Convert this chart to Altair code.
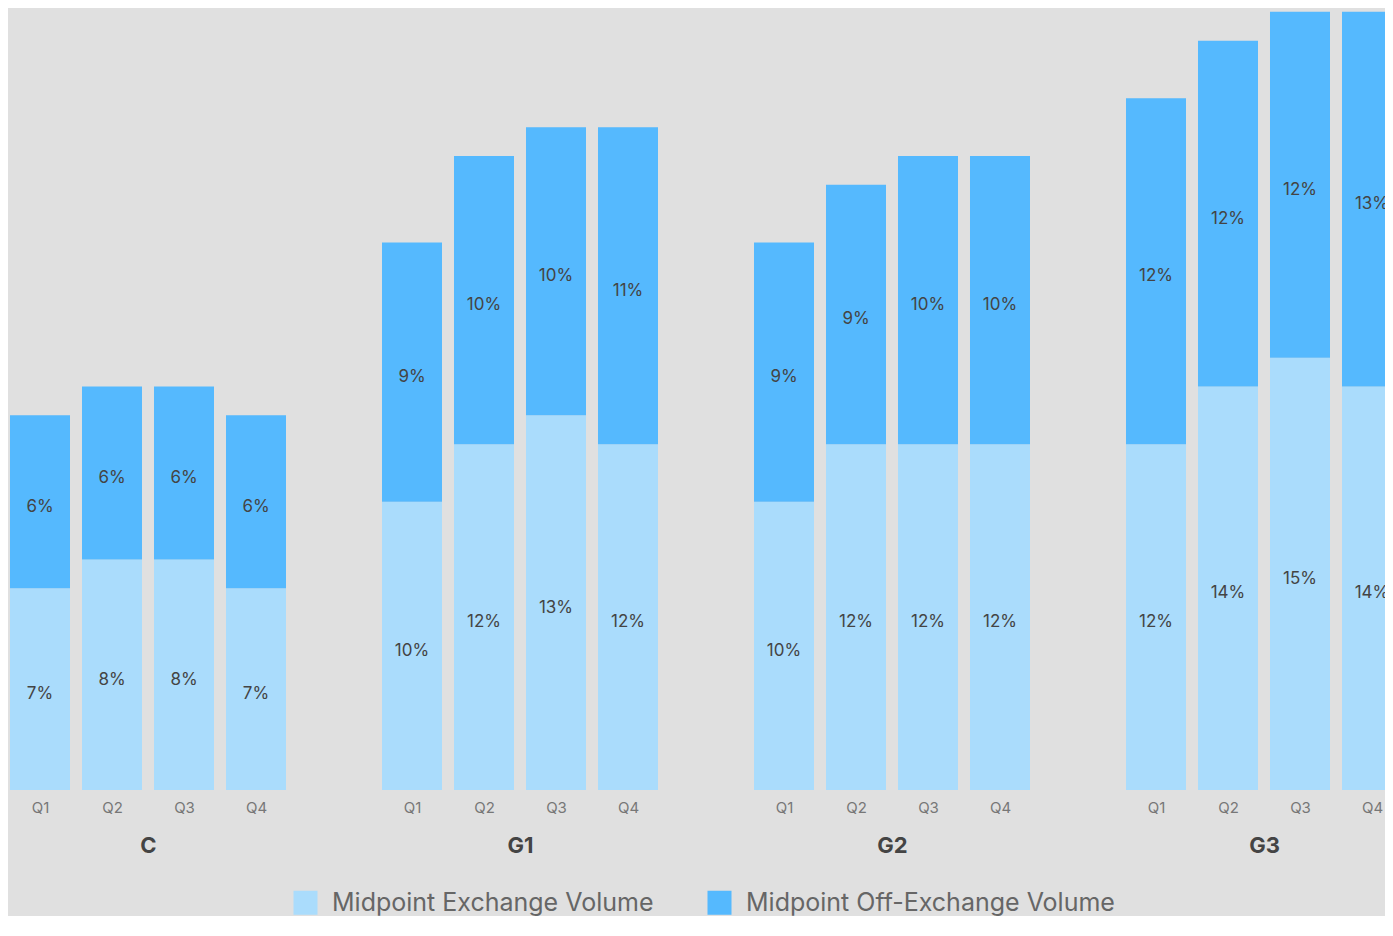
import json
import altair as alt
import pandas as pd

groups = ["C", "G1", "G2", "G3"]
quarters = ["Q1", "Q2", "Q3", "Q4"]
series = ["Midpoint Exchange Volume", "Midpoint Off-Exchange Volume"]

exchange_C = [7, 8, 8, 7]
exchange_G1 = [10, 12, 13, 12]
exchange_G2 = [10, 12, 12, 12]
exchange_G3 = [12, 14, 15, 14]

off_exchange_C = [6, 6, 6, 6]
off_exchange_G1 = [9, 10, 10, 11]
off_exchange_G2 = [9, 9, 10, 10]
off_exchange_G3 = [12, 12, 12, 13]

exchange = [exchange_C, exchange_G1, exchange_G2, exchange_G3]
off_exchange = [off_exchange_C, off_exchange_G1, off_exchange_G2, off_exchange_G3]

rows = []
for gi, g in enumerate(groups):
    for qi, q in enumerate(quarters):
        rows.append({"group": g, "quarter": q, "qi": qi, "series": series[0], "order": 0, "value": exchange[gi][qi]})
        rows.append({"group": g, "quarter": q, "qi": qi, "series": series[1], "order": 1, "value": off_exchange[gi][qi]})
df = pd.DataFrame(rows)

FONT = "Inter"
PANEL_W = 280        # full panel width in px
PANEL_H = 782
STEP = 72            # px per quarter slot
BAR_HALF = 30 / 72   # half bar width, in slot units
X_START = -32 / 72   # left edge of panel, in slot units
SPACING = 92
TOTAL_W = 1377

y_scale = alt.Scale(domain=[0, 27.134], nice=False, zero=True)
color_scale = alt.Scale(domain=series, range=["#aadcfc", "#55b9fe"])
label_expr = json.dumps(quarters) + "[datum.value]"


def panel(g, width):
    x_scale = alt.Scale(domain=[X_START, X_START + width / STEP], nice=False, zero=False, clamp=True)

    base = alt.Chart().transform_filter(
        alt.datum.group == g
    ).transform_stack(
        stack="value",
        as_=["y0", "y1"],
        groupby=["quarter"],
        sort=[alt.SortField("order", order="ascending")],
    ).transform_calculate(
        mid="(datum.y0 + datum.y1) / 2",
        label="datum.value + '%'",
        xs="datum.qi - %f" % BAR_HALF,
        xe="datum.qi + %f" % BAR_HALF,
    )

    x_axis = alt.Axis(
        title=g, titleFontSize=22, titleFontWeight="bold", titleColor="#444444",
        titleFont=FONT, titlePadding=20, titleX=PANEL_W / 2,
        values=list(range(len(quarters))), labelExpr=label_expr,
        grid=False, ticks=False, domain=False, labelAngle=0,
        labelFlush=False, labelOverlap=False,
        labelFontSize=15, labelColor="#777777", labelPadding=10, labelFont=FONT,
    )

    bars = base.mark_bar().encode(
        x=alt.X("xs:Q", scale=x_scale, axis=x_axis),
        x2="xe:Q",
        y=alt.Y("y0:Q", scale=y_scale, axis=None),
        y2="y1:Q",
        color=alt.Color(
            "series:N",
            scale=color_scale,
            legend=alt.Legend(
                title=None, orient="none", direction="horizontal",
                legendX=285, legendY=882,
                symbolType="square", symbolSize=576, symbolStrokeWidth=0,
                labelFontSize=25, labelColor="#666666", labelFont=FONT,
                labelOffset=14, columnPadding=53, labelLimit=0,
            ),
        ),
    )

    text = base.mark_text(fontSize=17, color="#444444", font=FONT, dy=5, clip=True).encode(
        x=alt.X("qi:Q", scale=x_scale, axis=x_axis),
        y=alt.Y("mid:Q", scale=y_scale, axis=None),
        text="label:N",
    )
    return alt.layer(bars, text).properties(width=width, height=PANEL_H)


widths = [PANEL_W, PANEL_W, PANEL_W, TOTAL_W - 3 * (PANEL_W + SPACING)]
panels = [panel(g, w) for g, w in zip(groups, widths)]

chart = alt.hconcat(*panels, data=df, spacing=SPACING).resolve_scale(
    x="independent"
).configure(
    background="#e0e0e0",
    padding=0,
).configure_view(stroke=None)

chart.save("out.html", embed_options={"renderer": "svg", "actions": False})
